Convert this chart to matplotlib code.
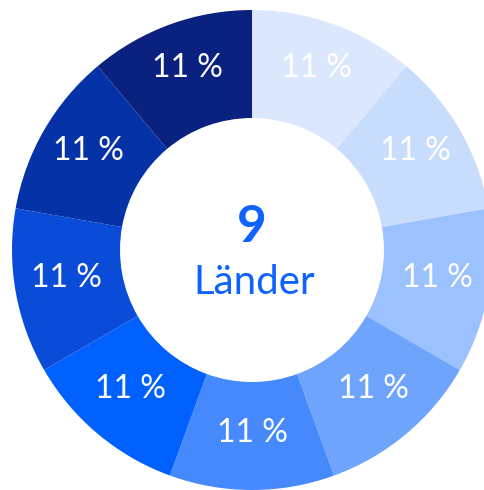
import matplotlib.pyplot as plt

# nine countries, equal share each
countries = ["Land 1", "Land 2", "Land 3", "Land 4", "Land 5",
             "Land 6", "Land 7", "Land 8", "Land 9"]
shares = [11, 11, 11, 11, 11, 11, 11, 11, 11]
labels = ["11 %"] * 9
colors = ["#dbe7fd", "#c8dcfc", "#9bc1fe", "#6fa4fd", "#4589fd",
          "#0061fe", "#0a4cd8", "#0532a6", "#0a2180"]

total_label = str(len(countries))
unit_label = "Länder"

plt.rcParams['font.family'] = ['Lato', 'DejaVu Sans']

fig = plt.figure(figsize=(4.84, 4.90), dpi=100)
ax = fig.add_axes([0, 0, 1, 1])
# work in pixel units so positions are easy to match
cx, cy, r = 252, 240, 240
wedges, texts = ax.pie(shares, colors=colors, labels=labels,
                       startangle=90, counterclock=False,
                       center=(cx, cy), radius=r, labeldistance=0.785,
                       wedgeprops=dict(width=r - 132, linewidth=0),
                       textprops=dict(color='white', fontsize=23,
                                      ha='center', va='center'))
# labels in the original sit a touch higher than the slice middle
for t in texts:
    x, y = t.get_position()
    t.set_position((x, y + 5))

ax.set_xlim(0, 484)
ax.set_ylim(0, 490)
ax.set_aspect('equal')
ax.axis('off')

ax.text(cx, 490 - 227, total_label, ha='center', va='center',
        fontsize=37, fontweight='bold', color='#0f62fe')
ax.text(cx + 2, 490 - 282, unit_label, ha='center', va='center',
        fontsize=29, color='#0f62fe')

fig.savefig('out.png', dpi=100)
